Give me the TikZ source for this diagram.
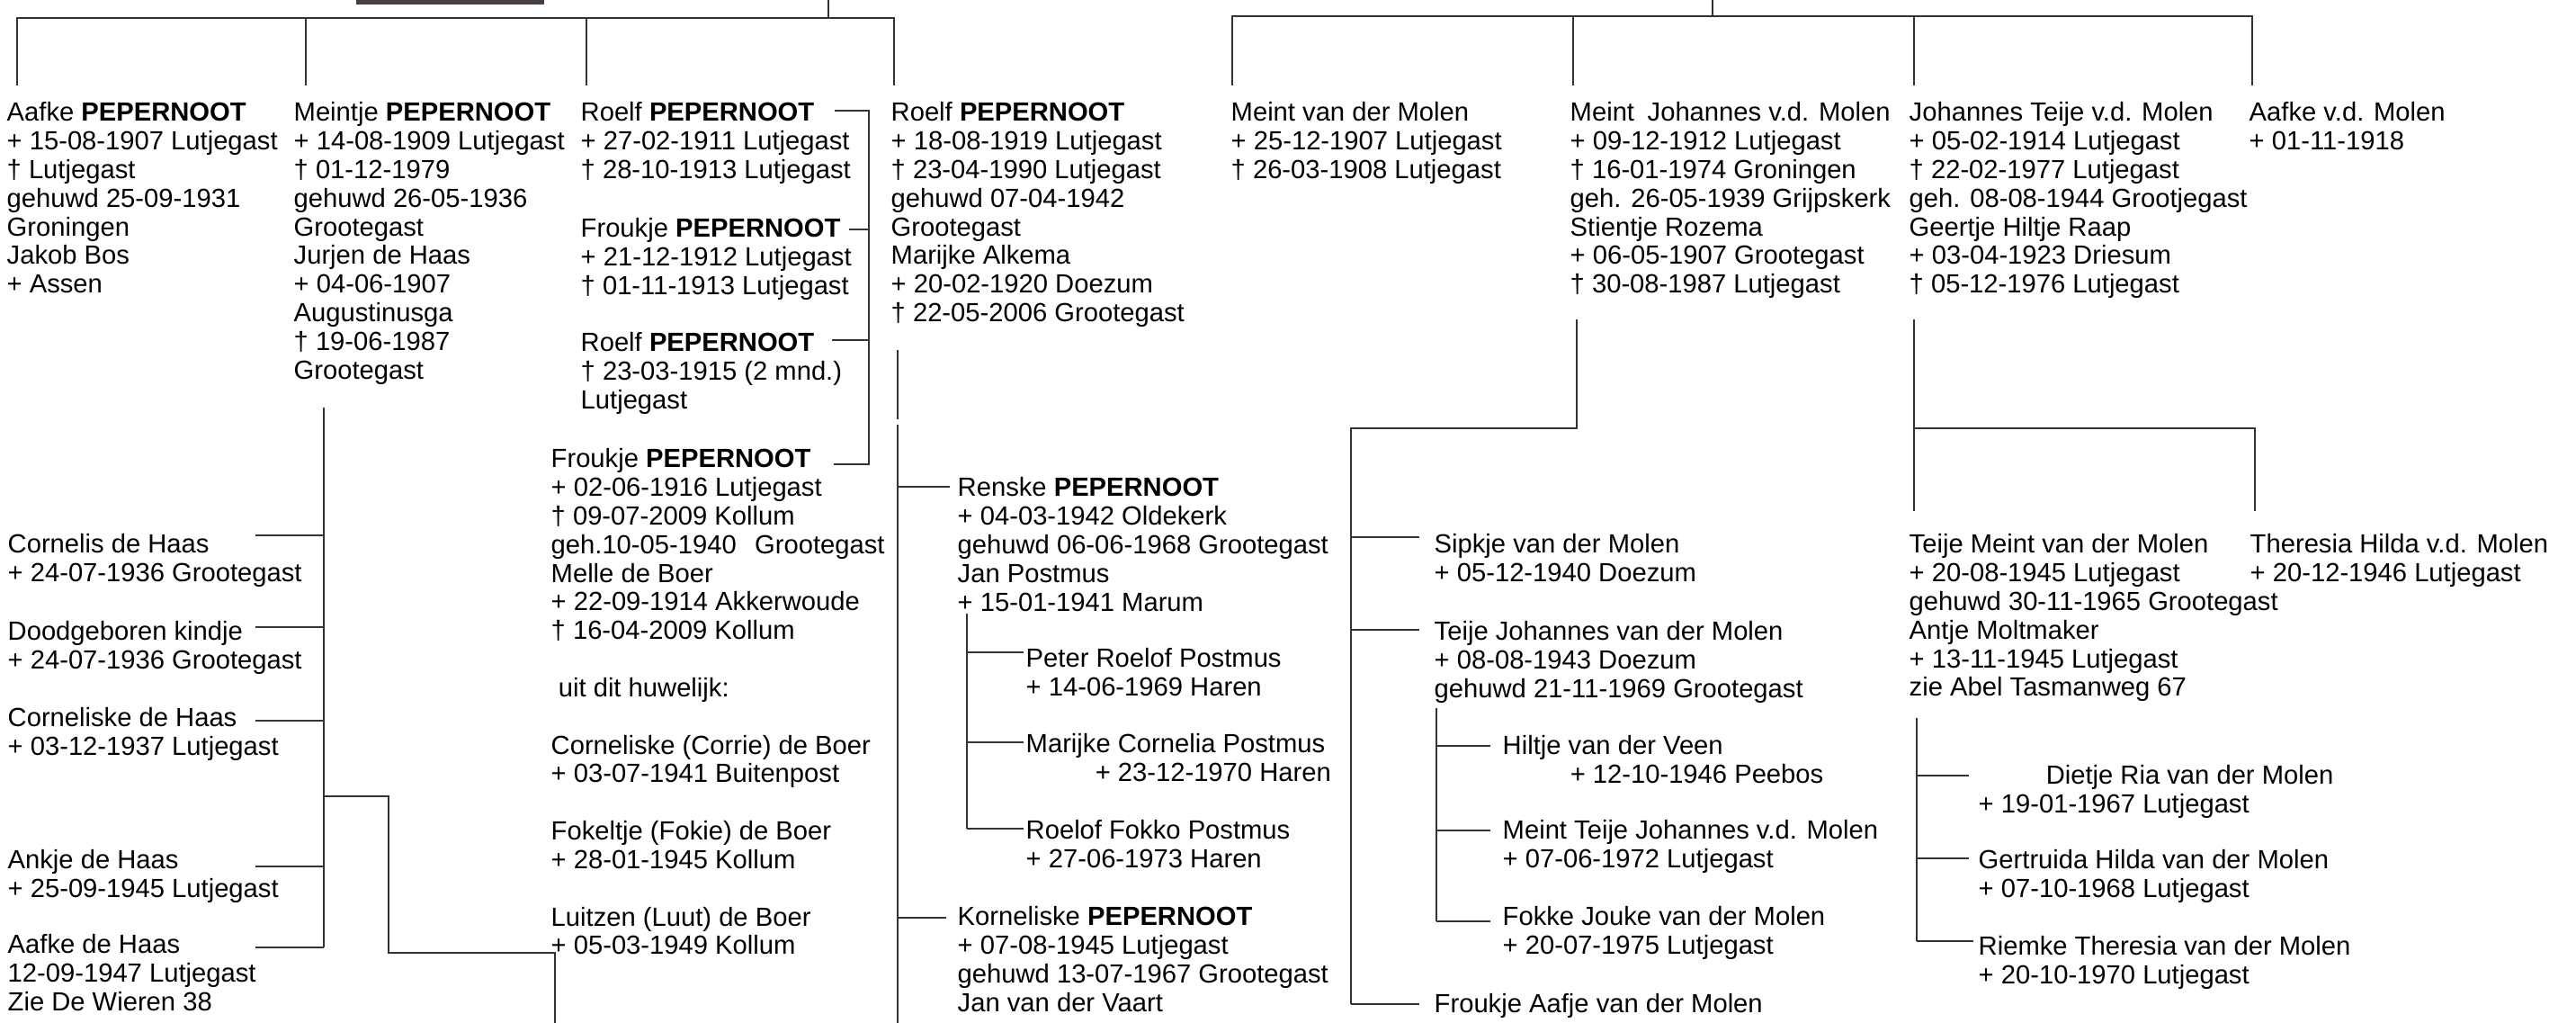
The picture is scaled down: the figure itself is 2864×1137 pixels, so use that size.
\documentclass[tikz,border=0pt]{standalone}
\usepackage{fontspec}
\setmainfont{Liberation Sans}
\definecolor{photo}{RGB}{70,62,62}
\begin{document}
\begin{tikzpicture}[x=0.01cm, y=-0.01cm,
    person/.style = {align=left, anchor=north west, inner sep=0pt, font=\fontsize{8.3pt}{9.05pt}\selectfont},
    line/.style = {draw=black!80, line width=0.6pt}]
  \useasboundingbox (0,0) rectangle (2864,1137);
  \fill[photo] (396,0) rectangle (605,5);

  % Pepernoot
  \coordinate (topL) at (921,20);
  \node[person] (aafke) at (7,113) {Aafke \textbf{PEPERNOOT}\\ + 15-08-1907 Lutjegast\\ † Lutjegast\\ gehuwd 25-09-1931\\ Groningen\\ Jakob Bos\\ + Assen};
  \node[person] (meintje) at (326,113) {Meintje \textbf{PEPERNOOT}\\ + 14-08-1909 Lutjegast\\ † 01-12-1979\\ gehuwd 26-05-1936\\ Grootegast\\ Jurjen de Haas\\ + 04-06-1907\\ Augustinusga\\ † 19-06-1987\\ Grootegast};
  \node[person] (roelfa) at (645,113) {Roelf \textbf{PEPERNOOT}\\ + 27-02-1911 Lutjegast\\ † 28-10-1913 Lutjegast};
  \node[person] (froukjea) at (645,242) {Froukje \textbf{PEPERNOOT}\\ + 21-12-1912 Lutjegast\\ † 01-11-1913 Lutjegast};
  \node[person] (roelfb) at (645,369) {Roelf \textbf{PEPERNOOT}\\ † 23-03-1915 (2 mnd.)\\ Lutjegast};
  \node[person] (froukjeb) at (612,498) {Froukje \textbf{PEPERNOOT}\\ + 02-06-1916 Lutjegast\\ † 09-07-2009 Kollum\\ geh.10-05-1940\hspace{0.7em}Grootegast\\ Melle de Boer\\ + 22-09-1914 Akkerwoude\\ † 16-04-2009 Kollum\\[9.05pt] \hspace*{0.28em}uit dit huwelijk:\\[9.05pt] Corneliske (Corrie) de Boer\\ + 03-07-1941 Buitenpost\\[9.05pt] Fokeltje (Fokie) de Boer\\ + 28-01-1945 Kollum\\[9.05pt] Luitzen (Luut) de Boer\\ + 05-03-1949 Kollum};
  \node[person] (roelfc) at (990,113) {Roelf \textbf{PEPERNOOT}\\ + 18-08-1919 Lutjegast\\ † 23-04-1990 Lutjegast\\ gehuwd 07-04-1942\\ Grootegast\\ Marijke Alkema\\ + 20-02-1920 Doezum\\ † 22-05-2006 Grootegast};

  \node[person] (cornelis) at (8,593) {Cornelis de Haas\\ + 24-07-1936 Grootegast};
  \node[person] (doodgeb) at (8,690) {Doodgeboren kindje\\ + 24-07-1936 Grootegast};
  \node[person] (corneliske) at (8,786) {Corneliske de Haas\\ + 03-12-1937 Lutjegast};
  \node[person] (ankje) at (8,944) {Ankje de Haas\\ + 25-09-1945 Lutjegast};
  \node[person] (aafkeh) at (8,1038) {Aafke de Haas\\ 12-09-1947 Lutjegast\\ Zie De Wieren 38};

  \node[person] (renske) at (1064,530) {Renske \textbf{PEPERNOOT}\\ + 04-03-1942 Oldekerk\\ gehuwd 06-06-1968 Grootegast\\ Jan Postmus\\ + 15-01-1941 Marum};
  \node[person] (peter) at (1140,720) {Peter Roelof Postmus\\ + 14-06-1969 Haren};
  \node[person] (marijke) at (1140,815) {Marijke Cornelia Postmus\\ \hspace*{0.77cm}+ 23-12-1970 Haren};
  \node[person] (roelof) at (1140,911) {Roelof Fokko Postmus\\ + 27-06-1973 Haren};
  \node[person] (korneliske) at (1064,1007) {Korneliske \textbf{PEPERNOOT}\\ + 07-08-1945 Lutjegast\\ gehuwd 13-07-1967 Grootegast\\ Jan van der Vaart};

  \draw[line] (topL) -- ++(0,-20);
  \foreach \n/\dx in {aafke/12, meintje/14, roelfa/7, roelfc/4}
    \draw[line] (\n.north west) ++(\dx,-18) |- (topL);
  \draw[line] (roelfa.north west) ++(283,10) -- ++(38,0) -- ++(0,393) -- ++(-39,0);
  \draw[line] (froukjea.north west) ++(299,13) -- ++(22,0);
  \draw[line] (roelfb.north west) ++(280,9) -- ++(41,0);
  \draw[line] (meintje.north west) ++(34,340) -- ++(0,600);
  \draw[line] (meintje.north west) ++(34,772) -- ++(72,0) -- ++(0,174) -- ++(185,0) -- ++(0,80);
  \foreach \n/\dy in {cornelis/2, doodgeb/7, corneliske/15, ankje/19, aafkeh/15}
    \draw[line] (\n.north west) ++(276,\dy) -- ++(76,0);
  \draw[line] (roelfc.north west) ++(8,276) -- ++(0,77);
  \draw[line] (roelfc.north west) ++(8,359) -- ++(0,668);
  \draw[line] (renske.north west) ++(-66,11) -- ++(58,0);
  \draw[line] (korneliske.north west) ++(-66,13) -- ++(54,0);
  \draw[line] (renske.north west) ++(11,152) -- ++(0,239);
  \foreach \n/\dy in {peter/5, marijke/10, roelof/10}
    \draw[line] (\n.north west) ++(-65,\dy) -- ++(63,0);

  % Van der Molen
  \coordinate (topR) at (1904,18);
  \node[person] (meint) at (1368,113) {Meint van der Molen\\ + 25-12-1907 Lutjegast\\ † 26-03-1908 Lutjegast};
  \node[person] (meintj) at (1745,113) {Meint\hspace{0.5em}Johannes v.d. Molen\\ + 09-12-1912 Lutjegast\\ † 16-01-1974 Groningen\\ geh. 26-05-1939 Grijpskerk\\ Stientje Rozema\\ + 06-05-1907 Grootegast\\ † 30-08-1987 Lutjegast};
  \node[person] (johannes) at (2122,113) {Johannes Teije v.d. Molen\\ + 05-02-1914 Lutjegast\\ † 22-02-1977 Lutjegast\\ geh. 08-08-1944 Grootjegast\\ Geertje Hiltje Raap\\ + 03-04-1923 Driesum\\ † 05-12-1976 Lutjegast};
  \node[person] (aafkem) at (2500,113) {Aafke v.d. Molen\\ + 01-11-1918};

  \node[person] (sipkje) at (1594,593) {Sipkje van der Molen\\ + 05-12-1940 Doezum};
  \node[person] (teijej) at (1594,690) {Teije Johannes van der Molen\\ + 08-08-1943 Doezum\\ gehuwd 21-11-1969 Grootegast};
  \node[person] (hiltje) at (1670,817) {Hiltje van der Veen\\ \hspace*{0.75cm}+ 12-10-1946 Peebos};
  \node[person] (meintt) at (1670,911) {Meint Teije Johannes v.d. Molen\\ + 07-06-1972 Lutjegast};
  \node[person] (fokke) at (1670,1007) {Fokke Jouke van der Molen\\ + 20-07-1975 Lutjegast};
  \node[person] (froukjem) at (1594,1104) {Froukje Aafje van der Molen};

  \node[person] (teijem) at (2122,593) {Teije Meint van der Molen\\ + 20-08-1945 Lutjegast\\ gehuwd 30-11-1965 Grootegast\\ Antje Moltmaker\\ + 13-11-1945 Lutjegast\\ zie Abel Tasmanweg 67};
  \node[person] (theresia) at (2501,593) {Theresia Hilda v.d. Molen\\ + 20-12-1946 Lutjegast};
  \node[person] (dietje) at (2199,850) {\hspace*{0.75cm}Dietje Ria van der Molen\\ + 19-01-1967 Lutjegast};
  \node[person] (gertruida) at (2199,944) {Gertruida Hilda van der Molen\\ + 07-10-1968 Lutjegast};
  \node[person] (riemke) at (2199,1040) {Riemke Theresia van der Molen\\ + 20-10-1970 Lutjegast};

  \draw[line] (topR) -- ++(0,-18);
  \foreach \n/\dx in {meint/2, meintj/4, johannes/6, aafkem/4}
    \draw[line] (\n.north west) ++(\dx,-18) |- (topR);
  \draw[line] (meintj.north west) ++(8,242) -- ++(0,121) -- ++(-251,0) -- ++(0,640);
  \foreach \n/\dy in {sipkje/4, teijej/10, froukjem/12}
    \draw[line] (\n.north west) ++(-92,\dy) -- ++(76,0);
  \draw[line] (teijej.north west) ++(3,97) -- ++(0,237);
  \foreach \n/\dy in {hiltje/12, meintt/12, fokke/17}
    \draw[line] (\n.north west) ++(-73,\dy) -- ++(60,0);
  \draw[line] (johannes.north west) ++(6,242) -- ++(0,213);
  \draw[line] (johannes.north west) ++(6,363) -- ++(379,0) -- ++(0,92);
  \draw[line] (teijem.north west) ++(9,205) -- ++(0,248);
  \foreach \n/\dy/\len in {dietje/12/58, gertruida/10/58, riemke/6/63}
    \draw[line] (\n.north west) ++(-68,\dy) -- ++(\len,0);
\end{tikzpicture}
\end{document}
